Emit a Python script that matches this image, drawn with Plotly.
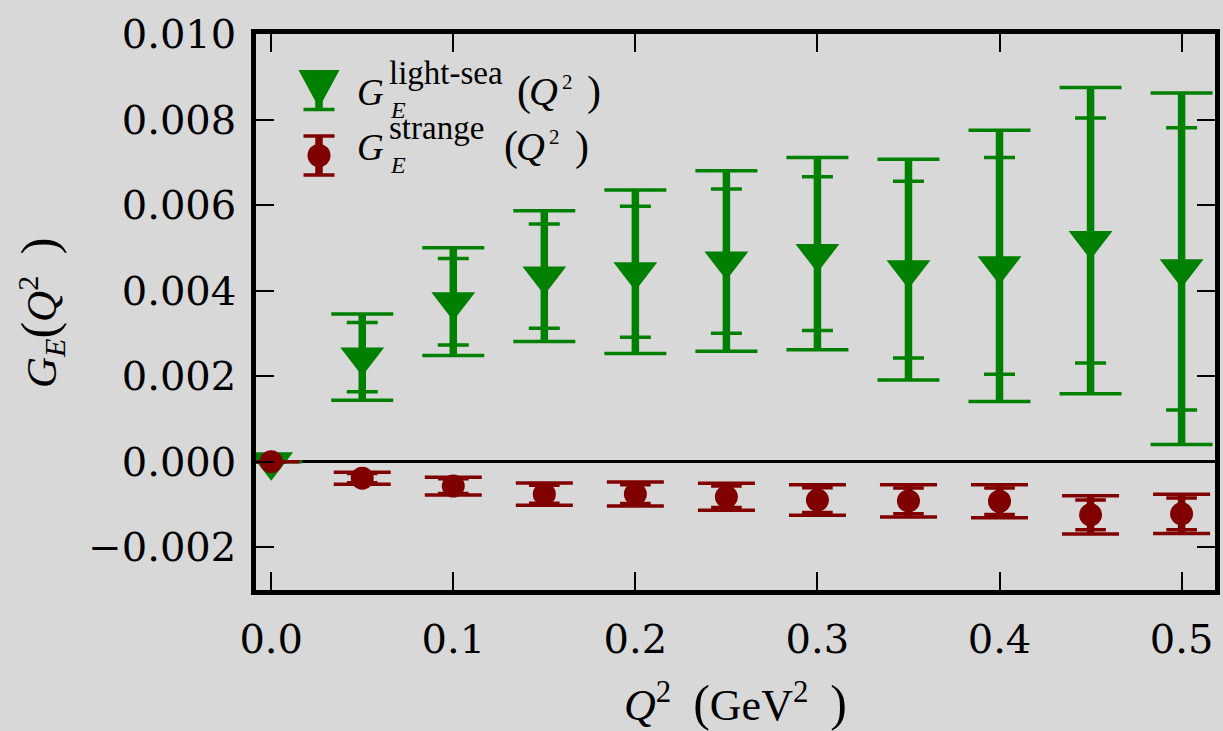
import plotly.graph_objects as go

# Momentum transfer Q^2 (GeV^2)
q2 = [0.00, 0.05, 0.10, 0.15, 0.20, 0.25, 0.30, 0.35, 0.40, 0.45, 0.50]

# Light-sea electric form factor: central value, total and statistical errors
light_sea = [0.0, 0.002445, 0.00374, 0.00434, 0.00444, 0.00469, 0.004865, 0.00449, 0.00458, 0.00517, 0.00451]
light_sea_tot = [0.0, 0.00101, 0.00126, 0.00153, 0.00191, 0.00211, 0.002245, 0.00258, 0.00317, 0.00358, 0.00411]
light_sea_stat = [0.0, 0.00081, 0.00101, 0.00122, 0.00153, 0.001685, 0.001795, 0.002065, 0.002535, 0.002865, 0.0033]

# Strange electric form factor: central value, total and statistical errors
strange = [0.0, -0.000385, -0.000571, -0.000761, -0.000757, -0.00082, -0.000897, -0.000917, -0.000925, -0.001243, -0.00122]
strange_tot = [0.0, 0.00014, 0.00021, 0.00026, 0.00028, 0.000318, 0.000357, 0.000377, 0.000385, 0.000446, 0.00046]
strange_stat = [0.0, 0.00011, 0.00017, 0.00021, 0.00022, 0.00025, 0.00029, 0.0003, 0.00031, 0.00035, 0.00037]

x_ticks = [0.0, 0.1, 0.2, 0.3, 0.4, 0.5]
y_ticks = [-0.002, 0.0, 0.002, 0.004, 0.006, 0.008, 0.010]

GREEN = "#008000"
RED = "#800000"
BG = "#d8d8d8"
MATH = "Liberation Serif"
NUM = "DejaVu Serif"

W, H = 1223, 731
ML, MR, MT, MB = 256, 8, 34, 141
PW, PH = W - ML - MR, H - MT - MB


def err_trace(y, err, color, thick, cap):
    return go.Scatter(
        x=q2, y=y, mode="markers",
        marker=dict(size=1, opacity=0),
        error_y=dict(type="data", array=err, symmetric=True, color=color,
                     thickness=thick, width=cap),
        showlegend=False, hoverinfo="skip",
    )


fig = go.Figure()

# light-sea: total error caps, thick stems, statistical caps, markers
fig.add_trace(err_trace(light_sea, light_sea_tot, GREEN, 3.5, 31))
fig.add_trace(err_trace(light_sea, light_sea_tot, GREEN, 7.5, 0))
fig.add_trace(err_trace(light_sea, light_sea_stat, GREEN, 3.5, 15.5))
fig.add_trace(go.Scatter(
    x=q2, y=light_sea, mode="markers", name="light-sea",
    marker=dict(symbol="triangle-down", size=38, color=GREEN, line=dict(width=0)),
    showlegend=False,
))

# strange
fig.add_trace(err_trace(strange, strange_tot, RED, 3.5, 28.5))
fig.add_trace(err_trace(strange, strange_tot, RED, 7.5, 0))
fig.add_trace(err_trace(strange, strange_stat, RED, 3.5, 15.3))
fig.add_trace(go.Scatter(
    x=q2, y=strange, mode="markers", name="strange",
    marker=dict(symbol="circle", size=23, color=RED, line=dict(width=0)),
    showlegend=False,
))


def px(x):
    return (x - ML) / PW


def py(y):
    return (H - MB - y) / PH


def text_at(s, left, baseline, size, italic=False):
    # position a text run by its left edge and baseline (in pixels)
    fig.add_annotation(
        text=f"<i>{s}</i>" if italic else s,
        x=px(left), y=py(baseline - 0.3375 * size),
        xref="paper", yref="paper", xanchor="left", yanchor="middle",
        showarrow=False, borderpad=0,
        font=dict(family=MATH, size=size, color="black"),
    )


# legend handles
hx = 319
shapes = []
# light-sea handle
shapes.append(dict(type="line", xref="paper", yref="paper", x0=px(hx), x1=px(hx),
                   y0=py(72), y1=py(109.5), line=dict(color=GREEN, width=7.5)))
shapes.append(dict(type="line", xref="paper", yref="paper", x0=px(hx - 15.5), x1=px(hx + 15.5),
                   y0=py(109.5), y1=py(109.5), line=dict(color=GREEN, width=3.5)))
shapes.append(dict(type="path", xref="paper", yref="paper",
                   path=f"M {px(hx - 20.5)} {py(70)} L {px(hx + 20.5)} {py(70)} L {px(hx)} {py(108)} Z",
                   fillcolor=GREEN, line=dict(width=0)))
# strange handle
shapes.append(dict(type="line", xref="paper", yref="paper", x0=px(hx), x1=px(hx),
                   y0=py(136), y1=py(175), line=dict(color=RED, width=7.5)))
for yy in (136, 175):
    shapes.append(dict(type="line", xref="paper", yref="paper", x0=px(hx - 15.5), x1=px(hx + 15.5),
                       y0=py(yy), y1=py(yy), line=dict(color=RED, width=3.5)))
shapes.append(dict(type="circle", xref="paper", yref="paper",
                   x0=px(hx - 11.5), x1=px(hx + 11.5), y0=py(155.5 + 11.5), y1=py(155.5 - 11.5),
                   fillcolor=RED, line=dict(width=0)))

# legend labels
text_at("G", 356, 105, 37, italic=True)
text_at("light-sea", 388, 84, 33)
text_at("E", 389, 118, 24, italic=True)
text_at("(", 516, 106, 42)
text_at("Q", 528, 105, 40, italic=True)
text_at("2", 561, 89, 21)
text_at(")", 586, 106, 42)

text_at("G", 356, 160, 37, italic=True)
text_at("strange", 388, 139, 33)
text_at("E", 389, 173, 24, italic=True)
text_at("(", 503, 161, 42)
text_at("Q", 515, 160, 40, italic=True)
text_at("2", 548, 144, 21)
text_at(")", 574, 161, 42)

P = '<span style="font-size:50px">{}</span>'

# y-axis title, rotated
fig.add_annotation(
    text="<i>G</i><sub><i>E</i></sub>" + P.format("(") + "<i>Q</i><sup>2</sup>&nbsp; " + P.format(")"),
    textangle=-90, x=px(41), y=py(313), xref="paper", yref="paper",
    xanchor="center", yanchor="middle", showarrow=False, borderpad=0,
    font=dict(family=MATH, size=43, color="black"),
)

fig.update_layout(
    width=W, height=H,
    margin=dict(l=ML, r=MR, t=MT, b=MB, pad=0),
    paper_bgcolor=BG, plot_bgcolor=BG,
    shapes=shapes,
    showlegend=False,
    xaxis=dict(
        range=[-0.00835, 0.51835], tickvals=x_ticks, tickformat=".1f",
        automargin=False,
        showgrid=False, zeroline=False,
        showline=True, linecolor="black", linewidth=4.5, mirror="allticks",
        ticks="inside", ticklen=18, tickwidth=2, tickcolor="black",
        tickfont=dict(family=NUM, size=40, color="black"),
        ticklabelstandoff=10,
        title=dict(text="<i>Q</i><sup>2</sup>&nbsp; " + P.format("(") + "GeV<sup>2</sup>&nbsp; " + P.format(")"),
                   font=dict(family=MATH, size=44, color="black"), standoff=30),
    ),
    yaxis=dict(
        range=[-0.003, 0.010], tickvals=y_ticks, tickformat=".3f",
        automargin=False,
        showgrid=False, zeroline=True, zerolinecolor="black", zerolinewidth=2.5,
        showline=True, linecolor="black", linewidth=4.5, mirror="allticks",
        ticks="inside", ticklen=18, tickwidth=2, tickcolor="black",
        tickfont=dict(family=NUM, size=40, color="black"),
        ticklabelstandoff=7,
    ),
)

fig.write_html("out.html")
